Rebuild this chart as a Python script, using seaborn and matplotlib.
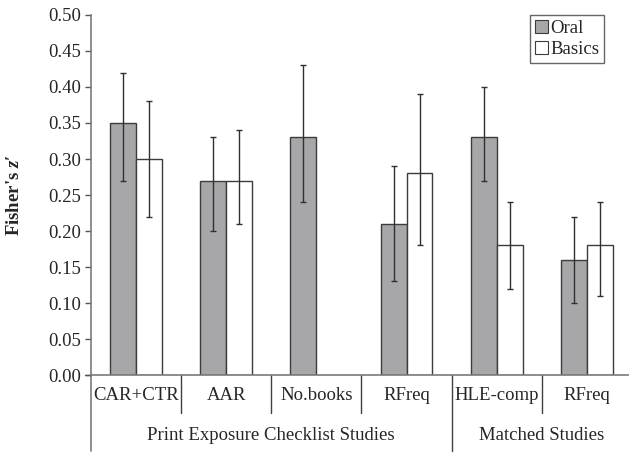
import matplotlib
matplotlib.use("Agg")
import matplotlib.pyplot as plt
import matplotlib.transforms as mtransforms
import seaborn as sns
import pandas as pd
import numpy as np

categories = ["CAR+CTR", "AAR", "No.books", "RFreq", "HLE-comp", "RFreq "]
oral = [0.35, 0.27, 0.33, 0.21, 0.33, 0.16]
oral_lo = [0.27, 0.20, 0.24, 0.13, 0.27, 0.10]
oral_hi = [0.42, 0.33, 0.43, 0.29, 0.40, 0.22]
basics = [0.30, 0.27, None, 0.28, 0.18, 0.18]
basics_lo = [0.22, 0.21, None, 0.18, 0.12, 0.11]
basics_hi = [0.38, 0.34, None, 0.39, 0.24, 0.24]
series = ["Oral", "Basics"]
groups = ["Print Exposure Checklist Studies", "Matched Studies"]
group_spans = [(0, 3), (4, 5)]
yticks = [0.00, 0.05, 0.10, 0.15, 0.20, 0.25, 0.30, 0.35, 0.40, 0.45, 0.50]

rows = []
for i, c in enumerate(categories):
    rows.append(dict(cat=c, series="Oral", val=oral[i], lo=oral_lo[i], hi=oral_hi[i]))
    if basics[i] is not None:
        rows.append(dict(cat=c, series="Basics", val=basics[i], lo=basics_lo[i], hi=basics_hi[i]))
df = pd.DataFrame(rows)

FS = 13.5

sns.set_style("white")
plt.rcParams["font.family"] = ["Liberation Serif", "DejaVu Serif"]
plt.rcParams["mathtext.fontset"] = "custom"
plt.rcParams["mathtext.rm"] = "Liberation Serif"
plt.rcParams["mathtext.it"] = "Liberation Serif:italic"
plt.rcParams["mathtext.bf"] = "Liberation Serif:bold"
plt.rcParams["mathtext.bfit"] = "Liberation Serif:italic:bold"

fig = plt.figure(figsize=(6.29, 4.53), dpi=100)
ax = fig.add_axes([0.1445, 0.172, 1.0 - 0.1445, 0.795])

sns.barplot(data=df, x="cat", y="val", hue="series", order=categories,
            hue_order=series, palette={"Oral": "#a7a7aa", "Basics": "#ffffff"},
            width=0.576, errorbar=None, edgecolor="#3c3c3c", linewidth=1.0,
            saturation=1, ax=ax)

# error bars from bar centers
for cont, s in zip(ax.containers, series):
    sub = df[df.series == s].set_index("cat")
    for patch in cont.patches:
        h = patch.get_height()
        if np.isnan(h):
            continue
        xc = patch.get_x() + patch.get_width() / 2
        ci = int(round(xc))
        cat = categories[ci]
        if cat not in sub.index:
            continue
        r = sub.loc[cat]
        ax.errorbar([xc], [r.val], yerr=[[r.val - r.lo], [r.hi - r.val]],
                    fmt="none", ecolor="#303030", elinewidth=1.0, capsize=2.5,
                    capthick=1.0, zorder=5)

ax.set_xlim(-0.5, 5.467)
ax.set_ylim(0, 0.5)
ax.set_yticks(yticks)
ax.set_yticklabels([f"{v:.2f}" for v in yticks], fontsize=FS)
ax.tick_params(axis="y", direction="out", length=4, width=1, color="#555555", pad=3, left=True)
ax.set_xticks([])
ax.set_xlabel("")
ax.set_ylabel(r"Fisher's $\mathbfit{z}$′", fontsize=FS, fontweight="bold")
ax.yaxis.set_label_coords(-0.126, 0.5)

for side in ["top", "right"]:
    ax.spines[side].set_visible(False)
for side in ["left", "bottom"]:
    ax.spines[side].set_color("#7a7a7a")
    ax.spines[side].set_linewidth(1.2)

trans = mtransforms.blended_transform_factory(ax.transData, ax.transAxes)
# extend left axis line downward
ax.plot([-0.5, -0.5], [0, -0.21], transform=trans, color="#7a7a7a", lw=1.2, clip_on=False)
# separators between categories
for i in range(1, len(categories)):
    x = i - 0.5
    long = any(i == s for s, e in group_spans[1:])
    ax.plot([x, x], [0, -0.21 if long else -0.105], transform=trans,
            color="#404040", lw=1.0, clip_on=False)
# category labels
for i, c in enumerate(categories):
    ax.text(i, -0.058, c.strip(), transform=trans, ha="center", va="center", fontsize=FS)
# group labels
for g, (s, e) in zip(groups, group_spans):
    ax.text((s - 0.5 + e + 0.5) / 2, -0.168, g, transform=trans, ha="center",
            va="center", fontsize=FS)
# small tick at 0 extending left
ax.plot([-0.56, -0.5], [0, 0], transform=trans, color="#555555", lw=1.0, clip_on=False)

leg = ax.legend(loc="upper right", bbox_to_anchor=(0.954, 1.0), frameon=True,
                fancybox=False, edgecolor="#404040", fontsize=FS,
                handlelength=0.7, handleheight=0.7, handletextpad=0.15,
                borderpad=0.25, labelspacing=0.22, borderaxespad=0)
leg.get_frame().set_linewidth(1.0)
for h in leg.legend_handles:
    h.set_edgecolor("#3c3c3c")
    h.set_linewidth(0.8)

fig.savefig("out.png", dpi=100)
